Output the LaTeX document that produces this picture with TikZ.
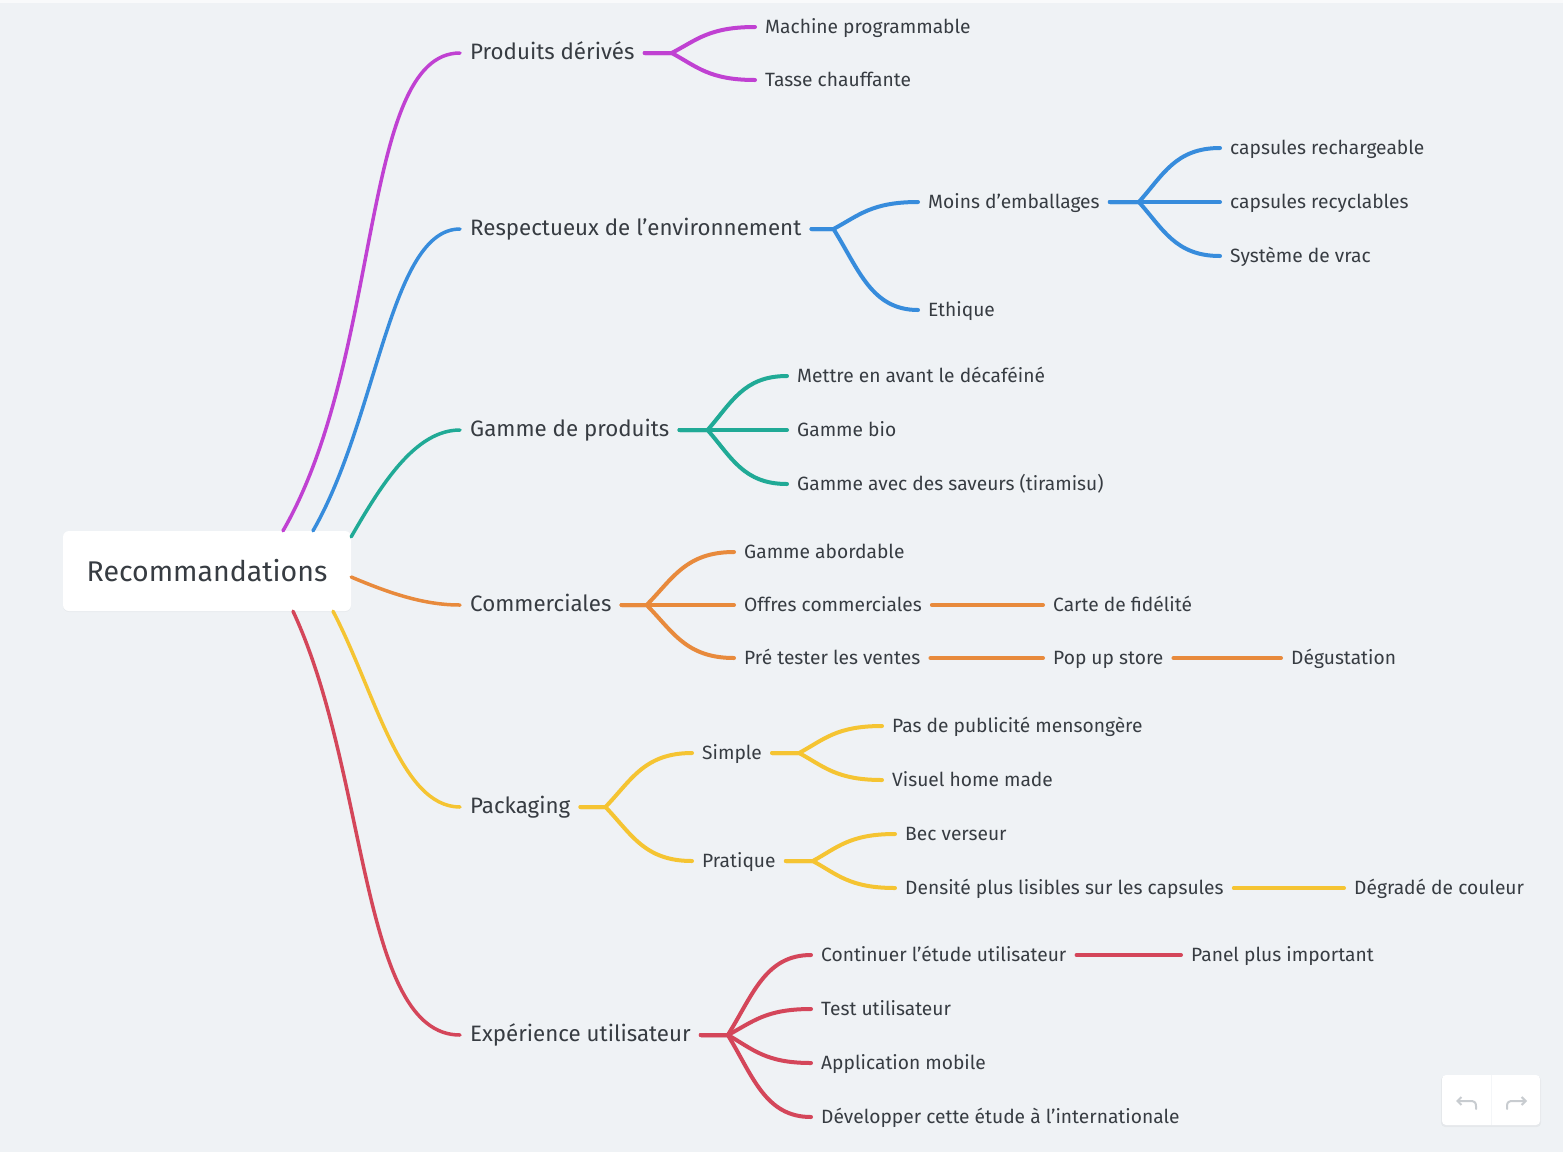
\documentclass[tikz,border=0pt]{standalone}
\usepackage{fontspec}
\setmainfont{Fira Sans}
\usetikzlibrary{calc,arrows.meta,shadows}
\definecolor{bg}{RGB}{239,242,245}
\definecolor{ink}{RGB}{55,60,66}
\definecolor{cpurple}{RGB}{192,65,210}
\definecolor{cblue}{RGB}{55,140,220}
\definecolor{cteal}{RGB}{32,170,150}
\definecolor{corange}{RGB}{232,138,60}
\definecolor{cyellow}{RGB}{245,196,50}
\definecolor{cred}{RGB}{212,70,90}
\definecolor{icongrey}{RGB}{200,204,208}
\tikzset{
  txt/.style={text=ink, anchor=west, inner xsep=10pt, inner ysep=0pt, text height=1.45em, text depth=0.2em},
  lvone/.style={txt, font=\fontsize{22.3}{25}\selectfont},
  lvtwo/.style={txt, font=\fontsize{19.2}{22}\selectfont},
  rootbox/.style={fill=white, rounded corners=6pt, minimum width=288pt, minimum height=80pt, text=ink, font=\fontsize{28.5}{31}\selectfont, drop shadow={opacity=0.06, shadow xshift=0pt, shadow yshift=-1pt}},
  link/.style={line width=3.5pt, line cap=round},
  flink/.style={line width=4pt, line cap=round},
}
\newcommand{\mmfork}[4]{%
  \draw[flink,#1] let \p1=($(#2.east)+(#4,0)$), \p2=(#3.west) in
    (#2.east) -- (\p1) .. controls ({\x1+0.3*(\x2-\x1)},{\y1+0.5*(\y2-\y1)}) and ({\x2-0.55*(\x2-\x1)},\y2) .. (\p2);}
\begin{document}
\begin{tikzpicture}[x=1pt,y=-1pt]
\fill[bg] (0,0) rectangle (1563,1152);
\fill[white!60!bg] (0,0) rectangle (1563,3);
\useasboundingbox (0,0) rectangle (1563,1152);

% root
\node[rootbox] (root) at (207,571) {Recommandations};

% level 1
\node[lvone] (pd) at (460,53) {Produits dérivés};
\node[lvone] (env) at (460,229) {Respectueux de l’environnement};
\node[lvone] (gam) at (460,430) {Gamme de produits};
\node[lvone] (com) at (460,605) {Commerciales};
\node[lvone] (pack) at (460,807) {Packaging};
\node[lvone] (exp) at (460,1035) {Expérience utilisateur};

% level 2+
\node[lvtwo] (mp) at (755,27) {Machine programmable};
\node[lvtwo] (tc) at (755,80) {Tasse chauffante};
\node[lvtwo] (me) at (918,202) {Moins d’emballages};
\node[lvtwo] (eth) at (918,310) {Ethique};
\node[lvtwo] (cr) at (1220,148) {capsules rechargeable};
\node[lvtwo] (cy) at (1220,202) {capsules recyclables};
\node[lvtwo] (sv) at (1220,256) {Système de vrac};
\node[lvtwo] (dec) at (787,376) {Mettre en avant le décaféiné};
\node[lvtwo] (bio) at (787,430) {Gamme bio};
\node[lvtwo] (sav) at (787,484) {Gamme avec des saveurs (tiramisu)};
\node[lvtwo] (abo) at (734,552) {Gamme abordable};
\node[lvtwo] (off) at (734,605) {Offres commerciales};
\node[lvtwo] (pre) at (734,658) {Pré tester les ventes};
\node[lvtwo] (fid) at (1043,605) {Carte de fidélité};
\node[lvtwo] (pop) at (1043,658) {Pop up store};
\node[lvtwo] (deg) at (1281,658) {Dégustation};
\node[lvtwo] (sim) at (692,753) {Simple};
\node[lvtwo] (pra) at (692,861) {Pratique};
\node[lvtwo] (pub) at (882,726) {Pas de publicité mensongère};
\node[lvtwo] (vis) at (882,780) {Visuel home made};
\node[lvtwo] (bec) at (895,834) {Bec verseur};
\node[lvtwo] (den) at (895,888) {Densité plus lisibles sur les capsules};
\node[lvtwo] (dgr) at (1344,888) {Dégradé de couleur};
\node[lvtwo] (cont) at (811,955) {Continuer l’étude utilisateur};
\node[lvtwo] (test) at (811,1009) {Test utilisateur};
\node[lvtwo] (app) at (811,1063) {Application mobile};
\node[lvtwo] (dev) at (811,1117) {Développer cette étude à l’internationale};
\node[lvtwo] (pan) at (1181,955) {Panel plus important};

% root links
\draw[link,cpurple] ([xshift=76pt]root.north) .. controls +(100,-173) and +(-100,0) .. (pd.west);
\draw[link,cblue] ([xshift=106pt]root.north) .. controls +(65,-113) and +(-70,0) .. (env.west);
\draw[link,cteal] ([yshift=-6pt]root.north east) .. controls +(30,-52) and +(-45,0) .. (gam.west);
\draw[link,corange] ([yshift=-6pt]root.east) .. controls +(40,17) and +(-35,0) .. (com.west);
\draw[link,cyellow] ([xshift=126pt]root.south) .. controls +(42,80) and +(-60,0) .. (pack.west);
\draw[link,cred] ([xshift=86pt]root.south) .. controls +(76,163) and +(-100,0) .. (exp.west);

% forks
\mmfork{cpurple}{pd}{mp}{27}
\mmfork{cpurple}{pd}{tc}{27}
\mmfork{cblue}{env}{me}{22}
\mmfork{cblue}{env}{eth}{22}
\mmfork{cblue}{me}{cr}{29}
\mmfork{cblue}{me}{cy}{29}
\mmfork{cblue}{me}{sv}{29}
\mmfork{cteal}{gam}{dec}{28}
\mmfork{cteal}{gam}{bio}{28}
\mmfork{cteal}{gam}{sav}{28}
\mmfork{corange}{com}{abo}{25}
\mmfork{corange}{com}{off}{25}
\mmfork{corange}{com}{pre}{25}
\draw[flink,corange] (off.east) -- (fid.west);
\draw[flink,corange] (pre.east) -- (pop.west);
\draw[flink,corange] (pop.east) -- (deg.west);
\mmfork{cyellow}{pack}{sim}{25}
\mmfork{cyellow}{pack}{pra}{25}
\mmfork{cyellow}{sim}{pub}{27}
\mmfork{cyellow}{sim}{vis}{27}
\mmfork{cyellow}{pra}{bec}{27}
\mmfork{cyellow}{pra}{den}{27}
\draw[flink,cyellow] (den.east) -- (dgr.west);
\mmfork{cred}{exp}{cont}{27}
\mmfork{cred}{exp}{test}{27}
\mmfork{cred}{exp}{app}{27}
\mmfork{cred}{exp}{dev}{27}
\draw[flink,cred] (cont.east) -- (pan.west);

% undo / redo buttons
\fill[black,opacity=0.04,rounded corners=4pt] (1441,1076) rectangle (1541,1127);
\fill[white,rounded corners=4pt] (1442,1075) rectangle (1540,1125);
\draw[bg!70!white,line width=1pt] (1491,1075) -- (1491,1125);
\draw[icongrey,line width=2pt,line cap=round,-{Straight Barb[length=4pt,width=8pt]}]
  (1476,1109) -- (1476,1106) .. controls (1476,1102) and (1474,1101) .. (1470,1101) -- (1456,1101);
\draw[icongrey,line width=2pt,line cap=round,-{Straight Barb[length=4pt,width=8pt]}]
  (1507,1109) -- (1507,1106) .. controls (1507,1102) and (1509,1101) .. (1513,1101) -- (1527,1101);
\end{tikzpicture}
\end{document}
